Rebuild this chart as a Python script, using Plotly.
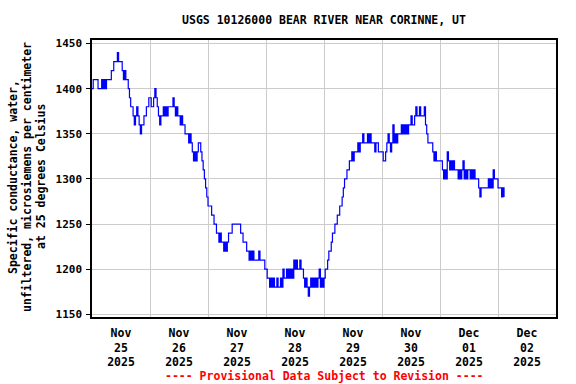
import pandas as pd
import plotly.graph_objects as go

# Specific conductance (uS/cm @ 25C), 30-minute readings
nov25 = [1400, 1410, 1410, 1410, 1410, 1400, 1400, 1400, 1410, 1400, 1410, 1400,
         1410, 1410, 1410, 1410, 1420, 1420, 1430, 1430, 1430, 1440, 1430, 1430,
         1430, 1420, 1410, 1420, 1410, 1410, 1400, 1390, 1380, 1380, 1370, 1360,
         1370, 1380, 1370, 1360, 1350, 1360, 1360, 1370, 1370, 1380, 1380, 1390]
nov26 = [1390, 1380, 1380, 1390, 1400, 1390, 1380, 1370, 1360, 1370, 1370, 1380,
         1370, 1380, 1370, 1380, 1380, 1380, 1380, 1390, 1380, 1370, 1380, 1370,
         1370, 1360, 1370, 1360, 1360, 1350, 1350, 1350, 1340, 1350, 1340, 1330,
         1320, 1330, 1320, 1330, 1340, 1340, 1330, 1320, 1310, 1300, 1290, 1280]
nov27 = [1270, 1270, 1270, 1260, 1260, 1250, 1250, 1240, 1240, 1230, 1240, 1230,
         1230, 1220, 1230, 1220, 1230, 1240, 1240, 1240, 1250, 1250, 1250, 1250,
         1250, 1250, 1250, 1240, 1240, 1230, 1230, 1230, 1220, 1220, 1210, 1220,
         1210, 1220, 1210, 1210, 1210, 1210, 1220, 1210, 1210, 1210, 1210, 1200]
nov28 = [1200, 1190, 1190, 1180, 1190, 1180, 1190, 1180, 1180, 1190, 1180, 1180,
         1190, 1180, 1200, 1190, 1190, 1200, 1190, 1200, 1190, 1200, 1190, 1210,
         1200, 1210, 1200, 1200, 1210, 1200, 1200, 1190, 1180, 1190, 1180, 1170,
         1180, 1190, 1180, 1190, 1180, 1190, 1180, 1190, 1200, 1180, 1190, 1180]
nov29 = [1190, 1200, 1200, 1210, 1220, 1220, 1230, 1240, 1240, 1250, 1250, 1260,
         1260, 1270, 1270, 1280, 1290, 1300, 1300, 1310, 1310, 1320, 1320, 1330,
         1320, 1330, 1330, 1330, 1340, 1330, 1340, 1340, 1350, 1340, 1340, 1340,
         1350, 1340, 1350, 1340, 1340, 1340, 1330, 1340, 1340, 1330, 1330, 1330]
nov30 = [1330, 1320, 1320, 1330, 1340, 1350, 1340, 1330, 1340, 1360, 1340, 1350,
         1340, 1350, 1350, 1350, 1360, 1350, 1360, 1350, 1360, 1350, 1360, 1360,
         1370, 1360, 1360, 1370, 1380, 1370, 1370, 1380, 1370, 1370, 1370, 1380,
         1360, 1350, 1340, 1340, 1340, 1340, 1330, 1320, 1330, 1320, 1320, 1320]
dec01 = [1320, 1320, 1310, 1300, 1310, 1300, 1330, 1320, 1310, 1320, 1310, 1320,
         1310, 1310, 1310, 1300, 1310, 1300, 1310, 1320, 1300, 1310, 1300, 1310,
         1310, 1300, 1310, 1300, 1310, 1300, 1300, 1300, 1290, 1280, 1290, 1290,
         1290, 1290, 1290, 1290, 1300, 1290, 1300, 1290, 1310, 1300, 1300, 1300]
dec02 = [1290, 1290, 1290, 1280, 1290, 1280]

values = nov25 + nov26 + nov27 + nov28 + nov29 + nov30 + dec01 + dec02
times = pd.date_range("2025-11-25 00:00", periods=len(values), freq="30min")

day_labels = ["Nov<br>25<br>2025", "Nov<br>26<br>2025", "Nov<br>27<br>2025",
              "Nov<br>28<br>2025", "Nov<br>29<br>2025", "Nov<br>30<br>2025",
              "Dec<br>01<br>2025", "Dec<br>02<br>2025"]
day_starts = pd.date_range("2025-11-25", periods=9, freq="D")
label_pos = [d + pd.Timedelta(hours=12) for d in day_starts[:8]]

FONT = "DejaVu Sans Mono"
GRID = "#cccccc"

fig = go.Figure()
fig.add_trace(go.Scatter(x=times, y=values, mode="lines", line_shape="hv",
                         line=dict(color="#0000ff", width=1.2), showlegend=False,
                         hoverinfo="skip"))

fig.update_layout(
    width=576, height=384,
    margin=dict(l=92, r=20, t=40, b=67),
    paper_bgcolor="white", plot_bgcolor="white",
    font=dict(family=FONT, size=11, color="black", weight="bold"),
    title=dict(text="USGS 10126000 BEAR RIVER NEAR CORINNE, UT",
               x=0.5, xref="paper", xanchor="center",
               y=1 - 20 / 384, yref="container", yanchor="middle",
               font=dict(family=FONT, size=11.5, color="black", weight="bold")),
    xaxis=dict(type="date", range=[day_starts[0], day_starts[-1]],
               tickmode="array", tickvals=label_pos, ticktext=day_labels,
               ticks="", showgrid=False, zeroline=False, automargin=False,
               ticklabelstandoff=4,
               tickfont=dict(family=FONT, size=11.5, weight="bold"),
               minor=dict(tickmode="array", tickvals=list(day_starts),
                          showgrid=True, gridcolor=GRID, gridwidth=1, ticks=""),
               showline=True, mirror=True, linecolor="black", linewidth=1.5),
    yaxis=dict(range=[1147, 1454], tickmode="array",
               tickvals=[1150, 1200, 1250, 1300, 1350, 1400, 1450],
               ticks="outside", ticklen=4, tickcolor="black", automargin=False,
               ticklabelstandoff=2,
               showgrid=True, gridcolor=GRID, gridwidth=1, zeroline=False,
               tickfont=dict(family=FONT, size=11, weight="bold"),
               showline=True, mirror=True, linecolor="black", linewidth=1.5),
)

ylab = ["Specific conductance, water,",
        "unfiltered, microsiemens per centimeter",
        "at 25 degrees Celsius"]
for px, txt in zip([13, 27, 41], ylab):
    fig.add_annotation(text=txt, xref="paper", yref="paper",
                       x=(px - 92) / 464, y=(317 - 177) / 277,
                       xanchor="center", yanchor="middle", textangle=-90,
                       showarrow=False,
                       font=dict(family=FONT, size=11.5, color="black", weight="bold"))

fig.add_annotation(text="---- Provisional Data Subject to Revision ----",
                   xref="paper", yref="paper", x=0.5, y=(317 - 376) / 277,
                   xanchor="center", yanchor="middle", showarrow=False,
                   font=dict(family=FONT, size=11.5, color="red", weight="bold"))

fig.write_html("out.html", config={"displayModeBar": False},
               post_script="document.body.style.margin='0px';document.body.style.padding='0px';")
